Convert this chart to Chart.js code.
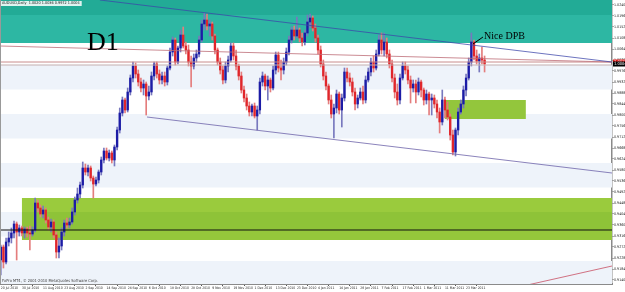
<!DOCTYPE html>
<html>
<head>
<meta charset="utf-8">
<script src="https://cdn.jsdelivr.net/npm/chart.js@4.4.1/dist/chart.umd.min.js"></script>
<style>
  html, body { margin: 0; padding: 0; background: #fff; }
  #wrap { width: 625px; height: 292px; }
</style>
</head>
<body>
<div id="wrap"><canvas id="chart" width="625" height="292"></canvas></div>
<script>
// Daily candles (bar 0 = 20 Jul 2010)
const opens = [
  0.9220, 0.9272, 0.9212, 0.9292, 0.9308, 0.9328, 0.9364, 0.9332, 0.9348, 0.9328,
  0.9344, 0.9328, 0.9324, 0.9340, 0.9448, 0.9428, 0.9404, 0.9420, 0.9380, 0.9352,
  0.9372, 0.9320, 0.9252, 0.9276, 0.9332, 0.9368, 0.9360, 0.9372, 0.9412, 0.9460,
  0.9484, 0.9520, 0.9588, 0.9572, 0.9588, 0.9548, 0.9524, 0.9540, 0.9572, 0.9620,
  0.9656, 0.9628, 0.9648, 0.9620, 0.9672, 0.9740, 0.9808, 0.9860, 0.9820, 0.9892,
  0.9948, 0.9996, 0.9964, 0.9932, 0.9908, 0.9924, 0.9876, 0.9892, 0.9956, 1.0004,
  0.9964, 0.9940, 0.9956, 0.9932, 0.9988, 1.0052, 1.0100, 1.0012, 1.0068, 1.0120,
  1.0076, 1.0060, 1.0012, 0.9996, 1.0028, 1.0044, 1.0100, 1.0164, 1.0180, 1.0156,
  1.0164, 1.0116, 1.0060, 1.0012, 0.9980, 0.9940, 0.9996, 1.0020, 1.0076, 1.0036,
  0.9996, 0.9956, 0.9900, 0.9868, 0.9836, 0.9812, 0.9836, 0.9796, 0.9820, 0.9932,
  0.9956, 0.9916, 0.9940, 0.9908, 0.9980, 1.0040, 0.9988, 0.9980, 1.0012, 1.0052,
  1.0100, 1.0140, 1.0116, 1.0140, 1.0108, 1.0092, 1.0128, 1.0172, 1.0188, 1.0148,
  1.0108, 1.0060, 1.0004, 0.9956, 0.9916, 0.9860, 0.9804, 0.9828, 0.9884, 0.9820,
  0.9868, 0.9972, 0.9948, 0.9932, 0.9892, 0.9844, 0.9868, 0.9892, 0.9860, 0.9940,
  0.9972, 1.0012, 0.9988, 1.0044, 1.0100, 1.0060, 1.0092, 1.0044, 1.0004, 0.9948,
  0.9892, 0.9860, 0.9948, 0.9996, 0.9980, 0.9940, 0.9908, 0.9924, 0.9892, 0.9932,
  0.9900, 0.9860, 0.9884, 0.9860, 0.9868, 0.9844, 0.9812, 0.9772, 0.9860, 0.9820,
  0.9792, 0.9720, 0.9652, 0.9740, 0.9812, 0.9844, 0.9900, 0.9948, 1.0012, 1.0092,
  1.0036, 1.0016, 1.0028, 1.0020
];
const highs = [
  0.9280, 0.9280, 0.9308, 0.9332, 0.9348, 0.9376, 0.9372, 0.9360, 0.9356, 0.9352,
  0.9352, 0.9356, 0.9352, 0.9468, 0.9460, 0.9440, 0.9436, 0.9428, 0.9392, 0.9384,
  0.9380, 0.9332, 0.9308, 0.9348, 0.9380, 0.9388, 0.9388, 0.9428, 0.9472, 0.9508,
  0.9532, 0.9612, 0.9604, 0.9600, 0.9596, 0.9556, 0.9552, 0.9580, 0.9632, 0.9668,
  0.9668, 0.9660, 0.9656, 0.9680, 0.9752, 0.9828, 0.9872, 0.9868, 0.9908, 0.9960,
  1.0012, 1.0008, 0.9980, 0.9948, 0.9940, 0.9932, 0.9916, 0.9972, 1.0012, 1.0012,
  0.9980, 0.9972, 0.9972, 0.9996, 1.0068, 1.0112, 1.0108, 1.0076, 1.0140, 1.0152,
  1.0092, 1.0080, 1.0036, 1.0044, 1.0060, 1.0116, 1.0180, 1.0208, 1.0204, 1.0180,
  1.0172, 1.0124, 1.0068, 1.0028, 0.9996, 1.0012, 1.0036, 1.0088, 1.0088, 1.0060,
  1.0004, 0.9972, 0.9916, 0.9884, 0.9852, 0.9844, 0.9848, 0.9836, 0.9948, 0.9972,
  0.9964, 0.9956, 0.9948, 0.9996, 1.0052, 1.0052, 1.0020, 1.0028, 1.0068, 1.0116,
  1.0152, 1.0156, 1.0192, 1.0148, 1.0128, 1.0140, 1.0200, 1.0204, 1.0196, 1.0164,
  1.0120, 1.0076, 1.0020, 0.9972, 0.9924, 0.9880, 0.9844, 0.9900, 0.9892, 0.9884,
  0.9988, 0.9988, 0.9968, 0.9948, 0.9908, 0.9880, 0.9908, 0.9916, 0.9956, 0.9988,
  1.0028, 1.0036, 1.0060, 1.0120, 1.0128, 1.0128, 1.0108, 1.0060, 1.0020, 0.9964,
  0.9924, 0.9964, 1.0012, 1.0012, 0.9996, 0.9956, 0.9940, 0.9940, 0.9948, 0.9940,
  0.9908, 0.9900, 0.9892, 0.9884, 0.9880, 0.9860, 0.9828, 0.9900, 0.9872, 0.9852,
  0.9804, 0.9740, 0.9748, 0.9828, 0.9860, 0.9916, 0.9964, 1.0028, 1.0128, 1.0100,
  1.0060, 1.0044, 1.0072, 1.0036
];
const lows = [
  0.9160, 0.9188, 0.9204, 0.9276, 0.9288, 0.9308, 0.9220, 0.9316, 0.9316, 0.9308,
  0.9312, 0.9260, 0.9316, 0.9332, 0.9412, 0.9392, 0.9388, 0.9368, 0.9340, 0.9332,
  0.9308, 0.9228, 0.9228, 0.9260, 0.9316, 0.9348, 0.9348, 0.9364, 0.9400, 0.9448,
  0.9468, 0.9508, 0.9560, 0.9556, 0.9536, 0.9468, 0.9516, 0.9528, 0.9560, 0.9608,
  0.9620, 0.9616, 0.9608, 0.9596, 0.9660, 0.9728, 0.9796, 0.9808, 0.9812, 0.9880,
  0.9932, 0.9948, 0.9916, 0.9892, 0.9880, 0.9800, 0.9860, 0.9880, 0.9940, 0.9948,
  0.9924, 0.9924, 0.9916, 0.9920, 0.9980, 1.0036, 1.0000, 1.0004, 1.0052, 1.0068,
  1.0044, 0.9996, 0.9912, 0.9984, 1.0012, 1.0032, 1.0092, 1.0140, 1.0140, 1.0116,
  1.0100, 1.0044, 1.0000, 0.9964, 0.9924, 0.9928, 0.9972, 1.0012, 1.0020, 0.9980,
  0.9940, 0.9888, 0.9852, 0.9820, 0.9796, 0.9796, 0.9788, 0.9740, 0.9804, 0.9916,
  0.9900, 0.9860, 0.9892, 0.9900, 0.9964, 0.9972, 0.9940, 0.9964, 1.0000, 1.0040,
  1.0088, 1.0100, 1.0108, 1.0092, 1.0076, 1.0080, 1.0116, 1.0148, 1.0136, 1.0092,
  1.0044, 0.9992, 0.9940, 0.9900, 0.9844, 0.9788, 0.9708, 0.9808, 0.9804, 0.9752,
  0.9856, 0.9932, 0.9916, 0.9876, 0.9820, 0.9828, 0.9860, 0.9844, 0.9848, 0.9932,
  0.9956, 0.9972, 0.9980, 1.0036, 1.0044, 1.0036, 1.0028, 0.9988, 0.9932, 0.9868,
  0.9840, 0.9844, 0.9940, 0.9964, 0.9924, 0.9848, 0.9892, 0.9848, 0.9880, 0.9872,
  0.9840, 0.9844, 0.9800, 0.9800, 0.9828, 0.9788, 0.9728, 0.9760, 0.9788, 0.9780,
  0.9700, 0.9640, 0.9636, 0.9720, 0.9804, 0.9828, 0.9876, 0.9940, 0.9996, 1.0020,
  1.0004, 0.9972, 1.0004, 0.9972
];
const closes = [
  0.9272, 0.9212, 0.9292, 0.9308, 0.9328, 0.9364, 0.9332, 0.9348, 0.9328, 0.9344,
  0.9328, 0.9324, 0.9340, 0.9448, 0.9428, 0.9404, 0.9420, 0.9380, 0.9352, 0.9372,
  0.9320, 0.9252, 0.9276, 0.9332, 0.9368, 0.9360, 0.9372, 0.9412, 0.9460, 0.9484,
  0.9520, 0.9588, 0.9572, 0.9588, 0.9548, 0.9524, 0.9540, 0.9572, 0.9620, 0.9656,
  0.9628, 0.9648, 0.9620, 0.9672, 0.9740, 0.9808, 0.9860, 0.9820, 0.9892, 0.9948,
  0.9996, 0.9964, 0.9932, 0.9908, 0.9924, 0.9876, 0.9892, 0.9956, 1.0004, 0.9964,
  0.9940, 0.9956, 0.9932, 0.9988, 1.0052, 1.0100, 1.0012, 1.0068, 1.0120, 1.0076,
  1.0060, 1.0012, 0.9996, 1.0028, 1.0044, 1.0100, 1.0164, 1.0180, 1.0156, 1.0164,
  1.0116, 1.0060, 1.0012, 0.9980, 0.9940, 0.9996, 1.0020, 1.0076, 1.0036, 0.9996,
  0.9956, 0.9900, 0.9868, 0.9836, 0.9812, 0.9836, 0.9796, 0.9820, 0.9932, 0.9956,
  0.9916, 0.9940, 0.9908, 0.9980, 1.0040, 0.9988, 0.9980, 1.0012, 1.0052, 1.0100,
  1.0140, 1.0116, 1.0140, 1.0108, 1.0092, 1.0128, 1.0172, 1.0188, 1.0148, 1.0108,
  1.0060, 1.0004, 0.9956, 0.9916, 0.9860, 0.9804, 0.9828, 0.9884, 0.9820, 0.9868,
  0.9972, 0.9948, 0.9932, 0.9892, 0.9844, 0.9868, 0.9892, 0.9860, 0.9940, 0.9972,
  1.0012, 0.9988, 1.0044, 1.0100, 1.0060, 1.0092, 1.0044, 1.0004, 0.9948, 0.9892,
  0.9860, 0.9948, 0.9996, 0.9980, 0.9940, 0.9908, 0.9924, 0.9892, 0.9932, 0.9900,
  0.9860, 0.9884, 0.9860, 0.9868, 0.9844, 0.9812, 0.9772, 0.9860, 0.9820, 0.9792,
  0.9720, 0.9652, 0.9740, 0.9812, 0.9844, 0.9900, 0.9948, 1.0012, 1.0092, 1.0036,
  1.0016, 1.0028, 1.0020, 1.0004
];

// Axis labels
const dateLabels = [
  '20 Jul 2010', '30 Jul 2010', '11 Aug 2010', '23 Aug 2010', '2 Sep 2010', '14 Sep 2010',
  '24 Sep 2010', '6 Oct 2010', '18 Oct 2010', '28 Oct 2010', '9 Nov 2010', '19 Nov 2010',
  '1 Dec 2010', '13 Dec 2010', '23 Dec 2010', '4 Jan 2011', '14 Jan 2011', '26 Jan 2011',
  '7 Feb 2011', '17 Feb 2011', '1 Mar 2011', '11 Mar 2011', '23 Mar 2011'
];
const dateBars = [0, 8, 16, 24, 32, 40, 48, 56, 64, 72, 80, 88, 96, 104, 112, 120, 128, 136, 144, 152, 160, 168, 176];
const priceTicks = [
  1.0240, 1.0196, 1.0152, 1.0108, 1.0064, 1.0020, 0.9976, 0.9932, 0.9888, 0.9844,
  0.9800, 0.9756, 0.9712, 0.9668, 0.9624, 0.9580, 0.9536, 0.9492, 0.9448, 0.9404,
  0.9360, 0.9316, 0.9272, 0.9228, 0.9184, 0.9140
];

// Drawn objects (bar index, price)
const upperTrend = [[37.5, 1.0260], [231.2, 1.0012]];
const pinkTrend = [[-0.3, 1.0076], [231.2, 1.0012]];
const lowerTrend = [[55.3, 0.9792], [231.2, 0.9568]];
const redRay = [[195, 0.9110], [231.2, 0.9196]];
const levelLines = [1.0012, 1.0000, 0.9340];
const bgBands = [[1.0000, 0.9902], [0.9804, 0.9706], [0.9608, 0.9510], [0.9412, 0.9314], [0.9216, 0.9124]];
const resistanceZone = [[1.0260, 1.0200], [1.0200, 1.0088]];
const supportZone = [[0.9468, 0.9412], [0.9412, 0.9340], [0.9340, 0.9300]];
const supportStart = 8;
const retestBox = [168, 198.6, 0.9860, 0.9784];

const X_MIN = -0.3, X_MAX = 231.2;
const Y_MIN = 0.9124, Y_MAX = 1.0260;

const bars = closes.map((c, i) => i);
const isUp = (i) => closes[i] >= opens[i];

const toXY = (pts) => pts.map(p => ({ x: p[0], y: p[1] }));
const flatLine = (level) => [{ x: X_MIN, y: level }, { x: X_MAX, y: level }];

function lineSet(data, color, width, order) {
  return {
    type: 'line', data: data, borderColor: color, borderWidth: width,
    pointRadius: 0, fill: false, tension: 0, clip: 0, order: order,
  };
}

const tinyFont = '"DejaVu Sans Condensed", "Liberation Sans", sans-serif';

// Background zones and overlay texts
const chartObjects = {
  id: 'chartObjects',
  beforeDatasetsDraw(chart) {
    const { ctx, chartArea: a, scales: { x, y } } = chart;
    const rect = (x0, x1, p0, p1, color) => {
      const px0 = x.getPixelForValue(x0), px1 = x.getPixelForValue(x1);
      const py0 = y.getPixelForValue(p0), py1 = y.getPixelForValue(p1);
      ctx.fillStyle = color;
      ctx.fillRect(px0, Math.min(py0, py1), px1 - px0, Math.abs(py1 - py0));
    };
    ctx.save();
    ctx.beginPath();
    ctx.rect(a.left, a.top, a.right - a.left, a.bottom - a.top);
    ctx.clip();
    bgBands.forEach(b => rect(X_MIN, X_MAX, b[0], b[1], '#eef3fa'));
    rect(X_MIN, X_MAX, resistanceZone[0][0], resistanceZone[0][1], '#22ab96');
    rect(X_MIN, X_MAX, resistanceZone[1][0], resistanceZone[1][1], '#2db7a3');
    const greens = ['#9acb3d', '#8ec338', '#95c73b'];
    supportZone.forEach((z, i) => rect(supportStart, X_MAX, z[0], z[1], greens[i]));
    rect(retestBox[0], retestBox[1], retestBox[2], retestBox[3], '#93c63c');
    ctx.restore();
  },
  afterDraw(chart) {
    const { ctx, chartArea: a, scales: { x, y } } = chart;
    ctx.save();
    // left frame
    ctx.fillStyle = '#999';
    ctx.fillRect(0, 0, 1, a.bottom);
    // D1 label
    ctx.fillStyle = '#000';
    ctx.font = '26px "Liberation Serif", "DejaVu Serif", serif';
    ctx.textBaseline = 'alphabetic';
    ctx.textAlign = 'left';
    ctx.fillText('D1', x.getPixelForValue(32.6), y.getPixelForValue(1.0060));
    // Nice DPB note with pointer
    ctx.font = '10px "Liberation Serif", "DejaVu Serif", serif';
    ctx.fillText('Nice DPB', x.getPixelForValue(182.8), y.getPixelForValue(1.0104));
    ctx.strokeStyle = '#000';
    ctx.lineWidth = 1;
    ctx.beginPath();
    ctx.moveTo(x.getPixelForValue(178.6), y.getPixelForValue(1.0084));
    ctx.lineTo(x.getPixelForValue(182.4), y.getPixelForValue(1.0112));
    ctx.stroke();
    // title
    const last = closes.length - 1;
    const title = 'AUDUSD,Daily  ' + [opens[last], highs[last], lows[last], closes[last]].map(v => v.toFixed(4)).join(' ');
    ctx.font = '3.8px ' + tinyFont;
    ctx.textBaseline = 'top';
    ctx.fillStyle = 'rgba(255,255,255,0.85)';
    ctx.fillRect(1, 1, ctx.measureText(title).width + 3, 5);
    ctx.fillStyle = '#222';
    ctx.fillText(title, 2, 1.5);
    // copyright
    ctx.font = '4px ' + tinyFont;
    ctx.fillStyle = '#444';
    ctx.fillText('FxPro MT4, \u00a9 2001-2010 MetaQuotes Software Corp.', 2, 278.5);
    // price boxes on the axis
    const box = (price, bg) => {
      const py = y.getPixelForValue(price);
      ctx.fillStyle = bg;
      ctx.fillRect(a.right + 1, py - 2.5, 13, 5);
      ctx.fillStyle = '#fff';
      ctx.font = '4px ' + tinyFont;
      ctx.textBaseline = 'middle';
      ctx.fillText(price.toFixed(4), a.right + 2, py);
    };
    box(levelLines[0], '#e01818');
    box(closes[last], '#000');
    ctx.restore();
  },
};

const ctx = document.getElementById('chart').getContext('2d');
new Chart(ctx, {
  type: 'bar',
  data: {
    datasets: [
      lineSet(toXY(upperTrend), 'rgba(60,70,170,0.75)', 1, 0),
      lineSet(toXY(pinkTrend), 'rgba(190,110,120,0.8)', 1, 0),
      lineSet(toXY(lowerTrend), 'rgba(110,100,170,0.8)', 1, 0),
      lineSet(toXY(redRay), 'rgba(200,80,100,0.8)', 1, 0),
      lineSet(flatLine(levelLines[0]), 'rgb(200,140,140)', 1, 0),
      lineSet(flatLine(levelLines[1]), 'rgb(195,175,175)', 1, 0),
      lineSet(flatLine(levelLines[2]), '#111', 1.2, 0),
      {
        label: 'bodies',
        data: bars.map(i => ({ x: i, y: [opens[i], closes[i]] })),
        backgroundColor: (c) => isUp(c.dataIndex) ? '#1c1ca6' : '#e0262b',
        barThickness: 1.7,
        minBarLength: 1,
        grouped: false,
        order: 1,
      },
      {
        label: 'wicks',
        data: bars.map(i => ({ x: i, y: [lows[i], highs[i]] })),
        backgroundColor: (c) => isUp(c.dataIndex) ? 'rgb(120,120,190)' : 'rgb(228,125,125)',
        barThickness: 1,
        grouped: false,
        order: 2,
      },
    ],
  },
  options: {
    responsive: false,
    animation: false,
    devicePixelRatio: 1,
    layout: { padding: 0 },
    plugins: { legend: { display: false }, tooltip: { enabled: false } },
    scales: {
      x: {
        type: 'linear',
        min: X_MIN,
        max: X_MAX,
        offset: false,
        grid: { drawOnChartArea: false, drawTicks: true, tickLength: 2, color: '#555' },
        border: { display: true, color: '#8a8a8a', width: 2 },
        ticks: {
          font: { size: 3.4, family: tinyFont },
          color: '#222',
          padding: 0.5,
          maxRotation: 0,
          autoSkip: false,
          align: 'start',
          callback: (v) => dateLabels[dateBars.indexOf(v)] || '',
        },
        afterBuildTicks: (s) => { s.ticks = dateBars.map(v => ({ value: v })); },
        afterFit: (s) => { s.height = 8; s.paddingLeft = 0; s.paddingRight = 0; },
      },
      y: {
        type: 'linear',
        position: 'right',
        min: Y_MIN,
        max: Y_MAX,
        grid: { drawOnChartArea: false, drawTicks: true, tickLength: 1.5, color: '#555' },
        border: { display: true, color: '#8a8a8a', width: 1.5 },
        ticks: {
          font: { size: 3.6, family: tinyFont },
          color: '#222',
          padding: 0.5,
          callback: (v) => v.toFixed(4),
        },
        afterBuildTicks: (s) => { s.ticks = priceTicks.map(v => ({ value: v })); },
        afterFit: (s) => { s.width = 13; s.paddingTop = 0; s.paddingBottom = 0; },
      },
    },
  },
  plugins: [chartObjects],
});
</script>
</body>
</html>
